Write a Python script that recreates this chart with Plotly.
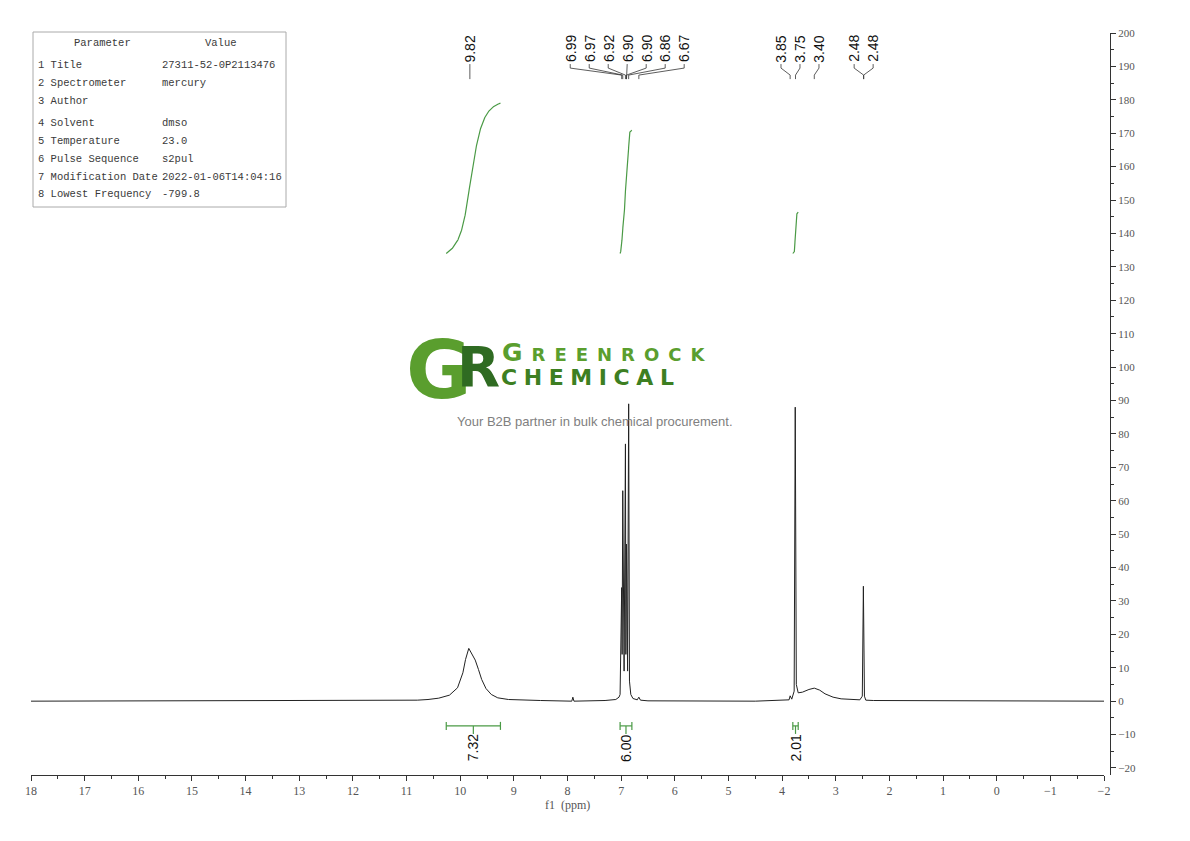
import numpy as np
import plotly.graph_objects as go

# 1H spectrum, points (ppm, intensity)
ppm = [18.0, 12.0, 10.8, 10.6, 10.4, 10.2, 10.05, 9.95, 9.90, 9.84, 9.78, 9.72, 9.66, 9.60,
       9.52, 9.42, 9.30, 9.10, 8.50, 7.92, 7.90, 7.88, 7.30, 7.10, 7.04, 7.02, 6.99, 6.982,
       6.97, 6.945, 6.92, 6.912, 6.90, 6.88, 6.86, 6.845, 6.82, 6.78, 6.70, 6.67, 6.64,
       6.50, 4.50, 3.90, 3.87, 3.85, 3.82, 3.775, 3.755, 3.735, 3.70, 3.62, 3.50, 3.40,
       3.30, 3.20, 3.05, 2.90, 2.70, 2.55, 2.505, 2.485, 2.465, 2.44, 2.30, 1.00, -2.0]
intensity = [0.0, 0.1, 0.3, 0.5, 0.9, 1.8, 4.0, 8.5, 12.5, 15.8, 14.0, 12.3, 9.5, 6.5,
             3.8, 2.0, 1.0, 0.5, 0.2, 0.0, 1.2, 0.0, 0.2, 0.5, 1.2, 2.0, 34.0, 14.0,
             63.0, 9.0, 77.0, 14.0, 47.0, 9.0, 89.0, 6.0, 2.0, 0.8, 0.4, 1.2, 0.3,
             0.1, 0.0, 0.2, 0.4, 1.6, 0.6, 3.0, 88.0, 5.0, 2.5, 2.7, 3.5, 3.9,
             3.3, 2.2, 1.2, 0.7, 0.4, 0.4, 1.5, 34.4, 1.5, 0.3, 0.2, 0.1, 0.0]

# peak picking labels, grouped the way they are drawn
peak_groups = [[9.82],
               [6.99, 6.97, 6.92, 6.90, 6.90, 6.86, 6.67],
               [3.85, 3.75, 3.40],
               [2.48, 2.48]]

# integrals
int_from = [10.26, 7.02, 3.80]
int_to = [9.25, 6.80, 3.70]
int_values = [7.32, 6.00, 2.01]

# parameter table
param_names = ["1 Title", "2 Spectrometer", "3 Author", "4 Solvent", "5 Temperature",
               "6 Pulse Sequence", "7 Modification Date", "8 Lowest Frequency"]
param_values = ["27311-52-0P2113476", "mercury", "", "dmso", "23.0",
                "s2pul", "2022-01-06T14:04:16", "-799.8"]

GREEN = "#4a9a45"
SERIF = "Liberation Serif"
SANS = "Liberation Sans"

# pixel -> paper helpers (plot area 31..1110 x 33..775 on screen)
def px(x):
	return (x - 31) / 1079.0

def py(y):
	return (775 - y) / 742.0

fig = go.Figure()

fig.add_trace(go.Scatter(x=ppm, y=intensity, mode="lines",
                         line=dict(color="#222222", width=1), hoverinfo="skip"))

# integral curves from the spectrum itself
order = np.argsort(ppm)
xp = np.array(ppm)[order]
fp = np.array(intensity)[order]
for a, b, v in zip(int_from, int_to, int_values):
	grid = np.linspace(a, b, 400)
	spec = np.interp(grid, xp, fp)
	cum = np.cumsum(spec)
	cum = cum - cum[0]
	curve = 134 + cum / cum[-1] * v * 6.15
	fig.add_trace(go.Scatter(x=grid, y=curve, mode="lines",
	                         line=dict(color=GREEN, width=1.2), hoverinfo="skip"))

# integral brackets + values
bx, byy = [], []
for a, b, v in zip(int_from, int_to, int_values):
	mid = (a + b) / 2
	bx += [a, a, None, a, b, None, b, b, None, mid, mid, None]
	byy += [-6.2, -8.6, None, -7.4, -7.4, None, -6.2, -8.6, None, -7.4, -9.8, None]
	fig.add_annotation(x=mid, y=-14.0, text="%.2f" % v, textangle=-90, showarrow=False,
	                   xanchor="center", yanchor="middle",
	                   font=dict(family=SANS, size=14, color="#111111"))
fig.add_trace(go.Scatter(x=bx, y=byy, mode="lines", line=dict(color=GREEN, width=1.2),
                         hoverinfo="skip"))

# peak labels and their connector lines
spacing = 0.354
lx_all, ly_all = [], []
for group in peak_groups:
	n = len(group)
	center = sum(group) / n
	for i, p in enumerate(group):
		lx = p if n == 1 else center + (n - 1) / 2 * spacing - i * spacing
		lx_all += [lx, lx, p, p, None]
		ly_all += [190.7, 189.5, 187.4, 186.2, None]
		fig.add_annotation(x=lx, y=195.3, text="%.2f" % p, textangle=-90, showarrow=False,
		                   xanchor="center", yanchor="middle",
		                   font=dict(family=SANS, size=14, color="#111111"))
fig.add_trace(go.Scatter(x=lx_all, y=ly_all, mode="lines", line=dict(color="#333333", width=0.8),
                         hoverinfo="skip"))

# parameter table
fig.add_shape(type="rect", xref="paper", yref="paper", x0=px(33), x1=px(286), y0=py(207), y1=py(32),
              line=dict(color="#aaaaaa", width=1), fillcolor="white", layer="above")
tfont = dict(family="Liberation Mono", size=10.5, color="#3a3a3a")
fig.add_annotation(xref="paper", yref="paper", x=px(102), y=py(43), text="Parameter",
                   showarrow=False, xanchor="center", yanchor="middle", font=tfont)
fig.add_annotation(xref="paper", yref="paper", x=px(221), y=py(43), text="Value",
                   showarrow=False, xanchor="center", yanchor="middle", font=tfont)
row_y = [65, 83, 101, 123, 141, 159, 177, 194]
for name, val, ry in zip(param_names, param_values, row_y):
	fig.add_annotation(xref="paper", yref="paper", x=px(36), y=py(ry), text=name,
	                   showarrow=False, xanchor="left", yanchor="middle", font=tfont)
	if val:
		fig.add_annotation(xref="paper", yref="paper", x=px(160), y=py(ry), text=val,
		                   showarrow=False, xanchor="left", yanchor="middle", font=tfont)

# watermark logo
fig.add_annotation(xref="paper", yref="paper", x=px(439), y=py(371), text="<b>G</b>",
                   showarrow=False, xanchor="center", yanchor="middle",
                   font=dict(family="DejaVu Sans", size=80, color="#5a9e2e"))
fig.add_annotation(xref="paper", yref="paper", x=px(478), y=py(366), text="<b>R</b>",
                   showarrow=False, xanchor="center", yanchor="middle",
                   font=dict(family="DejaVu Sans", size=56, color="#2f6b22"))
sp = "\u2002"
fig.add_annotation(xref="paper", yref="paper", x=px(500), y=py(352),
                   text="<b><span style='font-size:25px'>G</span>" + sp + sp.join("REENROCK") + "</b>",
                   showarrow=False, xanchor="left", yanchor="middle",
                   font=dict(family="DejaVu Sans", size=18, color="#5a9e2e"))
sp2 = "\u2009\u200a"
fig.add_annotation(xref="paper", yref="paper", x=px(499), y=py(377),
                   text="<b>" + sp2.join("CHEMICAL") + "</b>",
                   showarrow=False, xanchor="left", yanchor="middle",
                   font=dict(family="DejaVu Sans", size=22, color="#3d7f22"))
fig.add_annotation(xref="paper", yref="paper", x=px(595), y=py(421),
                   text="Your B2B partner in bulk chemical procurement.",
                   showarrow=False, xanchor="center", yanchor="middle",
                   font=dict(family=SANS, size=13, color="#808080"))

# axis title
fig.add_annotation(xref="x", yref="paper", x=8, y=py(805), text="f1  (ppm)", showarrow=False,
                   xanchor="center", yanchor="middle", font=dict(family=SERIF, size=12, color="#555555"))

tickfont = dict(family=SERIF, size=12, color="#555555")
fig.update_xaxes(range=[18, -2], domain=[0, 1073 / 1079.0], dtick=1, tick0=0,
                 ticks="outside", ticklen=5, tickwidth=1, tickcolor="#333333",
                 minor=dict(dtick=0.5, ticks="outside", ticklen=3, tickcolor="#333333"),
                 showline=True, linecolor="#333333", linewidth=1,
                 showgrid=False, zeroline=False, tickfont=tickfont)
fig.update_yaxes(range=[-22.1, 200], dtick=10, tick0=0, side="right", anchor="free", position=1,
                 ticks="outside", ticklen=5, tickwidth=1, tickcolor="#333333",
                 minor=dict(dtick=5, ticks="outside", ticklen=3, tickcolor="#333333"),
                 showline=True, linecolor="#333333", linewidth=1,
                 showgrid=False, zeroline=False, tickfont=dict(family=SERIF, size=11, color="#555555"))
# page has an 8px body margin, so the figure is 8px smaller and margins shifted
fig.update_layout(autosize=False, width=1182, height=833, showlegend=False,
                  margin=dict(l=23, r=80, t=25, b=66),
                  plot_bgcolor="white", paper_bgcolor="white")

fig.write_html("out.html")
print("done: saved figure")
